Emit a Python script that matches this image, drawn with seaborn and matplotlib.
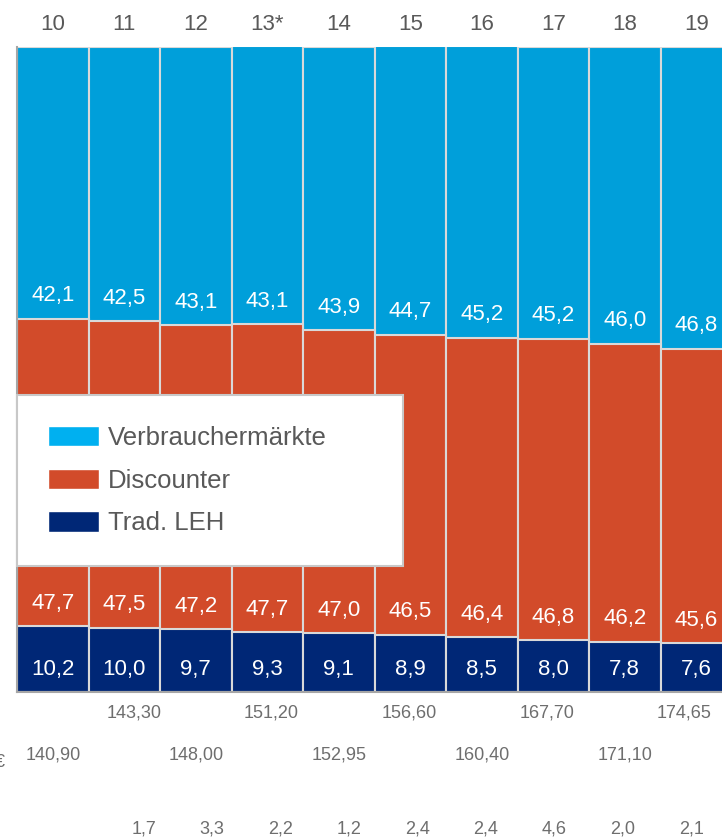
import numpy as np
import pandas as pd
import seaborn as sns
import matplotlib.pyplot as plt
from matplotlib.patches import Patch
from matplotlib.transforms import blended_transform_factory

years = ["10", "11", "12", "13*", "14", "15", "16", "17", "18", "19"]
verbraucher = [42.1, 42.5, 43.1, 43.1, 43.9, 44.7, 45.2, 45.2, 46.0, 46.8]
discounter = [47.7, 47.5, 47.2, 47.7, 47.0, 46.5, 46.4, 46.8, 46.2, 45.6]
trad_leh = [10.2, 10.0, 9.7, 9.3, 9.1, 8.9, 8.5, 8.0, 7.8, 7.6]
totals = ["140,90", "143,30", "148,00", "151,20", "152,95",
          "156,60", "160,40", "167,70", "171,10", "174,65"]
growth = ["1,7", "3,3", "2,2", "1,2", "2,4", "2,4", "4,6", "2,0", "2,1"]

c_blue = "#009FDA"
c_orange = "#D24B2A"
c_navy = "#002776"
c_legend_blue = "#00B0F0"
edge = "#D9D9D9"
grey_txt = "#595959"

sns.set_theme(style="white")
plt.rcParams["font.family"] = ["Liberation Sans", "DejaVu Sans"]

df = pd.DataFrame({"year": years, "v": verbraucher, "d": discounter, "t": trad_leh})
df["top"] = df["v"] + df["d"] + df["t"]
df["mid"] = df["d"] + df["t"]

fig = plt.figure(figsize=(7.22, 8.38), dpi=100)
ax = fig.add_axes([17 / 722, 146 / 838, 715 / 722, 645 / 838])

kw = dict(x="year", width=1.0, saturation=1, edgecolor=edge, linewidth=1.5, ax=ax)
sns.barplot(data=df, y="top", color=c_blue, **kw)
sns.barplot(data=df, y="mid", color=c_orange, **kw)
sns.barplot(data=df, y="t", color=c_navy, **kw)

ax.set_ylim(0, 100)
ax.set_xlim(-0.5, 9.5)
ax.set_xlabel("")
ax.set_ylabel("")
ax.set_yticks([])
ax.xaxis.tick_top()
ax.tick_params(axis="x", length=0, pad=8.5, labelsize=16, labelcolor=grey_txt)
for s in ["top", "right"]:
    ax.spines[s].set_visible(False)
for s in ["left", "bottom"]:
    ax.spines[s].set_color("#A6A6A6")
    ax.spines[s].set_linewidth(1.5)

# segment labels, a fixed distance above each segment's bottom
for i in range(len(years)):
    for base, val in [(df["mid"][i], verbraucher[i]), (trad_leh[i], discounter[i]), (0, trad_leh[i])]:
        ax.annotate(f"{val:.1f}".replace(".", ","), (i, base), xytext=(0, 16.5),
                    textcoords="offset points", ha="center", va="center",
                    color="white", fontsize=16)

# totals below the chart, staggered in two rows
trans = blended_transform_factory(ax.transData, ax.transAxes)
for i, lab in enumerate(totals):
    if i % 2 == 0:
        ax.text(i, -0.097, lab, transform=trans, ha="center", va="center",
                fontsize=13, color="#6E6E6E", clip_on=False)
    else:
        k = i // 2
        ax.text(1.136 + 1.924 * k, -0.032, lab, transform=trans, ha="center",
                va="center", fontsize=13, color="#6E6E6E", clip_on=False)

for k, lab in enumerate(growth):
    ax.text(1.27 + 0.958 * k, -0.212, lab, transform=trans, ha="center",
            va="center", fontsize=13, color="#6E6E6E", clip_on=False)

# cut-off unit at the left edge, as in the source
fig.text(5 / 722, 1 - 762 / 838, "€", ha="right", va="center",
         fontsize=13, color="#6E6E6E")

handles = [Patch(facecolor=c_legend_blue, label="Verbrauchermärkte"),
           Patch(facecolor=c_orange, label="Discounter"),
           Patch(facecolor=c_navy, label="Trad. LEH")]
w = (403 - 17) / 715
y1 = (692 - 395) / 645
h = (562 - 395) / 645
leg = ax.legend(handles=handles, loc="upper left", mode="expand",
                bbox_to_anchor=(0, y1 - h, w, h), borderaxespad=0,
                fontsize=18.5, handlelength=2.0, handleheight=0.86,
                handletextpad=0.35, borderpad=1.2, labelspacing=0.72,
                frameon=True, fancybox=False, framealpha=1)
leg.get_frame().set_edgecolor("#C8C8C8")
leg.get_frame().set_linewidth(1.5)
for t in leg.get_texts():
    t.set_color(grey_txt)

fig.savefig("out.png", dpi=100)
